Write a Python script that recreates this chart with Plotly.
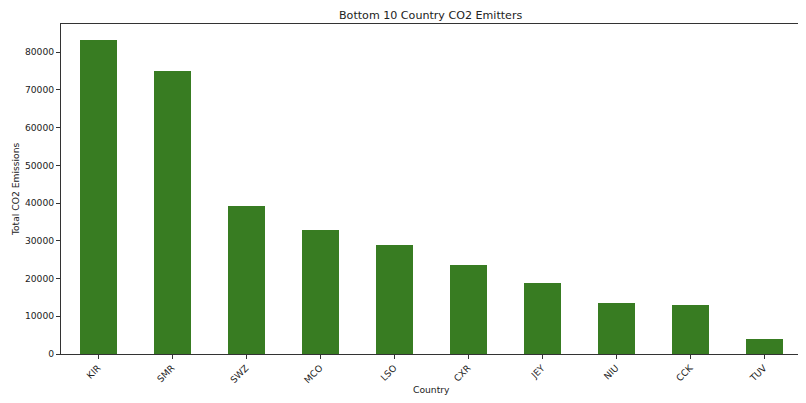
import plotly.graph_objects as go

countries = ["KIR", "SMR", "SWZ", "MCO", "LSO", "CXR", "JEY", "NIU", "CCK", "TUV"]
emissions = [83270, 74950, 39150, 32870, 28880, 23470, 18780, 13630, 12940, 4070]
y_ticks = [0, 10000, 20000, 30000, 40000, 50000, 60000, 70000, 80000]

ymax = max(emissions) * 1.05

fig = go.Figure(
    go.Bar(
        x=list(range(len(countries))),
        y=emissions,
        width=0.5,
        marker=dict(color="#387c22", line=dict(width=0)),
    )
)

axis_font = dict(family="DejaVu Sans", size=9.2, color="#222")
# page body has an 8px default margin, so the figure is 8px smaller and shifted
fig.update_layout(
    width=798,
    height=395,
    margin=dict(l=53, r=5, t=16, b=49, autoexpand=False),
    paper_bgcolor="white",
    plot_bgcolor="white",
    font=dict(family="DejaVu Sans", size=9.2, color="#222"),
    showlegend=False,
    bargap=0,
    annotations=[
        dict(text="Bottom 10 Country CO2 Emitters", xref="paper", yref="paper",
             x=0.5, y=1.027, xanchor="center", yanchor="middle", showarrow=False,
             font=dict(family="DejaVu Sans", size=11.1, color="#222")),
        dict(text="Country", xref="paper", yref="paper", x=0.5, y=-0.109,
             xanchor="center", yanchor="middle", showarrow=False, font=axis_font),
        dict(text="Total CO2 Emissions", xref="paper", yref="paper", x=-0.062, y=0.5,
             xanchor="center", yanchor="middle", textangle=-90, showarrow=False, font=axis_font),
    ],
)
fig.update_xaxes(
    range=[-0.5, len(countries) - 0.5],
    tickmode="array",
    tickvals=list(range(len(countries))),
    ticktext=countries,
    tickangle=-45,
    ticks="outside", ticklen=4, tickcolor="#333",
    showline=True, linecolor="#333", linewidth=1, mirror=True,
    showgrid=False, zeroline=False, automargin=False,
    tickfont=axis_font,
)
fig.update_yaxes(
    range=[0, ymax],
    tickmode="array",
    tickvals=y_ticks,
    ticktext=[str(v) for v in y_ticks],
    ticks="outside", ticklen=4, tickcolor="#333",
    showline=True, linecolor="#333", linewidth=1, mirror=True,
    showgrid=False, zeroline=False, automargin=False,
    tickfont=axis_font,
)

fig.write_html("out.html")
